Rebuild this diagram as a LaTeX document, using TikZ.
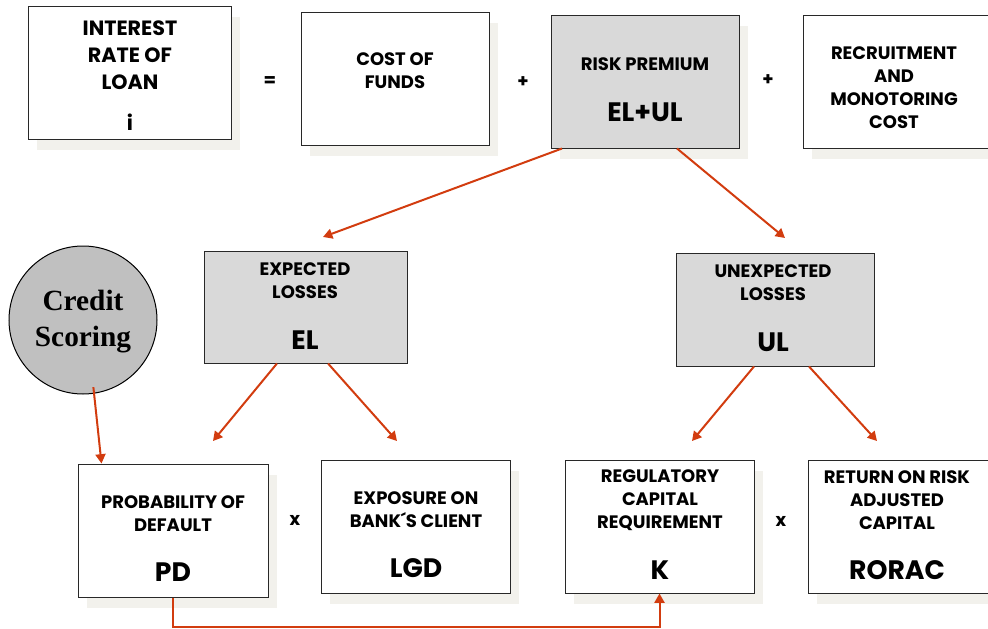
\documentclass[tikz,border=0pt]{standalone}
\usepackage{fontspec}
\setmainfont{Poppins}
\newfontfamily\timesfont{Liberation Serif}
\usetikzlibrary{arrows.meta,shadows}

\definecolor{boxgray}{RGB}{217,217,217}
\definecolor{circlegray}{RGB}{192,192,192}
\definecolor{shadowgray}{RGB}{242,241,236}
\definecolor{arrowred}{RGB}{210,60,15}

\tikzset{
	box/.style 2 args={draw={rgb,255:red,40;green,40;blue,40}, line width=0.75pt, inner sep=0pt,
		minimum width=#1*0.75pt, minimum height=#2*0.75pt},
	shadowed/.style={drop shadow={shadow xshift=7pt, shadow yshift=-8pt, fill=shadowgray, opacity=1}},
	label/.style={font=\bfseries\fontsize{13.5}{17.25}\selectfont, align=center, inner sep=0pt},
	biglabel/.style={font=\bfseries\fontsize{15.5}{20.25}\selectfont, align=center, inner sep=0pt},
	symbol/.style={font=\bfseries\fontsize{20}{22}\selectfont, inner sep=0pt},
	arr/.style={draw=arrowred, line width=1.5pt, -{Triangle[width=7.5pt,length=7pt]}}
}
\tikzset{every picture/.style={line width=0.75pt}}

\begin{document}
\begin{tikzpicture}[x=0.75pt,y=0.75pt,yscale=-1,xscale=1]
	\useasboundingbox (0,0) rectangle (988,628);

	%Boxes of the first row
	\node [box={203}{133}, shadowed, fill=white] (rate) at (129.5,72.5) {};
	\node [box={188}{133}, shadowed, fill=white] (funds) at (395,78.5) {};
	\node [box={188}{133}, shadowed, fill=boxgray] (premium) at (645,81.5) {};
	\node [box={190}{133}, shadowed, fill=white] (cost) at (898,81.5) {};

	%Boxes of the second row
	\node [box={203}{112}, fill=boxgray] (el) at (305.5,307) {};
	\node [box={198}{113}, fill=boxgray] (ul) at (775,309.5) {};

	%Credit scoring circle
	\node [circle, draw, line width=0.75pt, fill=circlegray, minimum size=148*0.75pt, inner sep=0pt] (scoring) at (83,320) {};

	%Boxes of the third row
	\node [box={190}{133}, shadowed, fill=white] (pd) at (173,530.5) {};
	\node [box={189}{133}, shadowed, fill=white] (lgd) at (415.5,526.5) {};
	\node [box={189}{133}, shadowed, fill=white] (k) at (659.5,526.5) {};
	\node [box={189}{133}, shadowed, fill=white] (rorac) at (902.5,526.5) {};

	% Text Nodes
	\node [biglabel] (ratet) at (130,55) {INTEREST\\RATE OF\\LOAN};
	\node [biglabel] (ratei) at (130,122) {i};
	\node [label] (fundst) at (395,71) {COST OF\\FUNDS};
	\node [label] (premiumt) at (645,64) {RISK PREMIUM};
	\node [symbol] (premiums) at (645,112) {EL+UL};
	\node [label] (costt) at (894,87.5) {RECRUITMENT\\AND\\MONOTORING\\COST};
	\node [label] (elt) at (305,281) {EXPECTED\\LOSSES};
	\node [symbol] (els) at (305,340) {EL};
	\node [label] (ult) at (773,283) {UNEXPECTED\\LOSSES};
	\node [symbol] (uls) at (773,342) {UL};
	\node [font=\timesfont\bfseries\fontsize{22}{27}\selectfont, align=center, inner sep=0pt] (scoringt) at (83,322) {Credit\\Scoring};
	\node [label] (pdt) at (173,513.5) {PROBABILITY OF\\DEFAULT};
	\node [symbol] (pds) at (173,572) {PD};
	\node [label] (lgdt) at (416,509.5) {EXPOSURE ON\\BANK´S CLIENT};
	\node [symbol] (lgds) at (416,568) {LGD};
	\node [label] (kt) at (660,500) {REGULATORY\\CAPITAL\\REQUIREMENT};
	\node [symbol] (ks) at (660,570) {K};
	\node [label] (roract) at (897,500) {RETURN ON RISK\\ADJUSTED\\CAPITAL};
	\node [symbol] (roracs) at (897,570) {RORAC};

	% Operators
	\node [label] (eq) at (270,82) {=};
	\node [label] (plusa) at (523,82) {+};
	\node [label] (plusb) at (768,80) {+};
	\node [label] (timesa) at (295,520) {x};
	\node [label] (timesb) at (781,521) {x};

	% Arrow ends
	\coordinate (elin) at (323,237);
	\coordinate (ulin) at (785,238);
	\coordinate (pdin) at (213,441);
	\coordinate (lgdin) at (397,441);
	\coordinate (kin) at (692,441);
	\coordinate (roracin) at (877,441);

	% Arrows
	\draw [arr] ([xshift=-62.25pt]premium.south) -- (elin);
	\draw [arr] ([xshift=24pt]premium.south) -- (ulin);
	\draw [arr] ([xshift=-21.4pt]el.south) -- (pdin);
	\draw [arr] ([xshift=16.9pt]el.south) -- (lgdin);
	\draw [arr] ([xshift=-15.75pt]ul.south) -- (kin);
	\draw [arr] ([xshift=25.5pt]ul.south) -- (roracin);
	\draw [arr] ([yshift=-5pt]scoring.-82) -- ([xshift=18pt]pd.north west);
	\draw [arr] (pd.south) -- ++(0,29) -| (k.south);
\end{tikzpicture}
\end{document}
